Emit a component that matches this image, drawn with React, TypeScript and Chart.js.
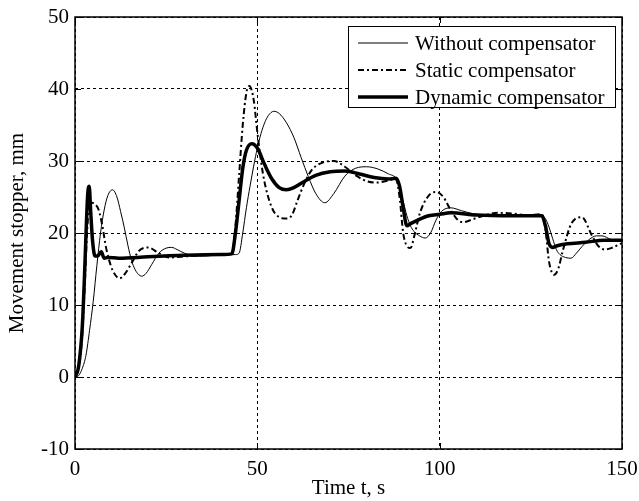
import React, { useEffect, useRef } from "react";
import { Chart, registerables } from "chart.js";

Chart.register(...registerables);

// ---- Data ----
const seriesLabels = ["Without compensator", "Static compensator", "Dynamic compensator"];

const tWithout = [0, 1, 2, 3, 4, 5, 6, 7, 8, 9, 10.3, 11.5, 12.5, 13.5, 14.5, 15.5, 16.5, 17.5, 18.3, 19.5, 21, 23, 25, 26.5, 28, 30, 33, 36, 40, 44, 45, 46, 47, 48, 49, 50, 51, 52, 53, 54.5, 56, 58, 60, 62, 64, 66, 68.5, 71, 74, 77, 80, 83, 86, 88, 89, 90, 91, 92, 93, 94.5, 96, 97.5, 99, 100.5, 103, 106, 109, 113, 120, 128, 129, 130, 131, 132, 133, 134.5, 136, 137.5, 139, 141, 143, 144.5, 147, 150];
const vWithout = [0, 0.2, 1.2, 3, 6.5, 10.5, 15.5, 20, 23.2, 25.2, 26, 25, 23, 20.8, 18.3, 16.2, 14.9, 14.2, 14, 14.4, 15.6, 17.2, 17.9, 18, 17.7, 17.2, 16.8, 16.8, 17, 17, 17.2, 20, 23.5, 26.5, 29.3, 31.8, 33.8, 35.3, 36.3, 36.9, 36.6, 35.3, 33.3, 30.5, 27.8, 25.5, 24.2, 25.5, 27.9, 29, 29.2, 28.9, 28.2, 27.6, 26.4, 24.4, 22.4, 21, 20.2, 19.6, 19.3, 20, 21.8, 23, 23.5, 23.1, 22.7, 22.5, 22.5, 22.4, 22, 20.8, 19.2, 17.7, 17, 16.6, 16.5, 17.2, 18.1, 19.1, 19.6, 19.6, 19.1, 18.8];

const tStatic = [0, 1, 2, 2.7, 3.3, 3.8, 4.5, 5.5, 6.5, 7.5, 8.5, 9.8, 11, 12.3, 13.5, 15.5, 17.5, 20, 23, 26, 29, 34, 40, 43, 44, 45, 46, 47, 47.8, 49, 50, 51, 52, 54, 56, 58, 59.5, 61, 63, 65, 68, 71, 74, 77, 80, 83, 86, 88, 89, 90, 91, 92, 93, 94.6, 97, 99, 101, 103, 105, 106.5, 109, 112, 116, 120, 124, 128, 129, 130, 131.4, 132.5, 133.8, 136.2, 139, 141.7, 143.5, 145.3, 147, 150];
const vStatic = [0, 1.2, 6, 13, 20, 23.5, 24.2, 24, 23.2, 21, 18, 15.5, 14.2, 13.7, 14.2, 15.8, 17.5, 18, 17.2, 16.6, 16.7, 16.9, 17, 17, 21, 28, 35, 39.5, 40.4, 38.5, 34, 30, 27, 23.5, 22.2, 22, 22.5, 24.5, 27, 28.8, 29.8, 30, 29.2, 28, 27.2, 27, 27.3, 27.5, 25, 20, 18.2, 17.9, 19.5, 22.8, 25.2, 25.7, 25, 23.2, 21.8, 21.5, 21.9, 22.4, 22.8, 22.7, 22.5, 22.6, 20.5, 16, 14.2, 15, 17.6, 21.4, 22.2, 19.7, 18.2, 17.7, 17.9, 18.6];

const tDynamic = [0, 1, 2, 2.6, 3.1, 3.5, 3.9, 4.3, 4.8, 5.5, 6.2, 7.2, 8, 9, 12, 20, 30, 40, 43, 44, 45, 46, 47, 48.5, 50, 52, 54, 56, 58, 60, 63, 66, 70, 74, 78, 82, 86, 88, 89, 90, 91, 92, 94, 97, 100, 103, 110, 120, 128, 129, 130, 131, 132, 135, 140, 145, 150];
const vDynamic = [0, 1.5, 7, 14, 21, 25.5, 26.5, 23, 19, 16.8, 16.8, 17.4, 16.5, 16.6, 16.5, 16.7, 16.9, 17, 17.1, 20, 24.5, 29, 31.5, 32.4, 31.8, 29.5, 27.5, 26.3, 26, 26.3, 27.2, 28, 28.5, 28.6, 28.2, 27.7, 27.5, 27.6, 26.5, 23.5, 21, 21.3, 21.8, 22.4, 22.6, 22.8, 22.5, 22.4, 22.4, 21, 18.5, 18, 18.2, 18.5, 18.7, 19, 19];

const xTicks = [0, 50, 100, 150];
const yTicks = [-10, 0, 10, 20, 30, 40, 50];

const FONT = "'Liberation Serif', 'Times New Roman', serif";
const FS = 21;

const styles = [
  { width: 1, dash: [] as number[] },
  { width: 2, dash: [6, 3, 2, 3] },
  { width: 3.5, dash: [] as number[] },
];

const toPts = (t: number[], v: number[]) => t.map((x, i) => ({ x, y: v[i] }));

const framePlugin = {
  id: "frame",
  afterDraw(chart: any) {
    const { ctx, chartArea: a, scales } = chart;
    ctx.save();
    ctx.strokeStyle = "#000";
    ctx.setLineDash([]);
    ctx.lineWidth = 1;
    const tl = 6;
    ctx.beginPath();
    xTicks.forEach((t) => {
      const x = Math.round(scales.x.getPixelForValue(t)) + 0.5;
      ctx.moveTo(x, a.bottom);
      ctx.lineTo(x, a.bottom - tl);
      ctx.moveTo(x, a.top);
      ctx.lineTo(x, a.top + tl);
    });
    yTicks.forEach((v) => {
      const y = Math.round(scales.y.getPixelForValue(v)) + 0.5;
      ctx.moveTo(a.left, y);
      ctx.lineTo(a.left + tl, y);
      ctx.moveTo(a.right, y);
      ctx.lineTo(a.right - tl, y);
    });
    ctx.stroke();
    ctx.lineWidth = 1.5;
    ctx.strokeRect(a.left, a.top, a.right - a.left, a.bottom - a.top);

    // legend
    const lx = 348.5, ly = 26.5, lw = 267, lh = 81;
    ctx.fillStyle = "#fff";
    ctx.fillRect(lx, ly, lw, lh);
    ctx.lineWidth = 1;
    ctx.strokeRect(lx, ly, lw, lh);
    ctx.font = `${FS}px ${FONT}`;
    ctx.textBaseline = "middle";
    ctx.textAlign = "left";
    chart.data.datasets.forEach((ds: any, i: number) => {
      const y = 43 + i * 27;
      ctx.beginPath();
      ctx.lineWidth = ds.borderWidth;
      ctx.setLineDash(ds.borderDash || []);
      ctx.moveTo(358, y);
      ctx.lineTo(408, y);
      ctx.stroke();
      ctx.setLineDash([]);
      ctx.fillStyle = "#000";
      ctx.fillText(ds.label, 415, y + 1);
    });
    ctx.restore();
  },
};

export default function App() {
  const ref = useRef<HTMLCanvasElement>(null);
  useEffect(() => {
    document.body.style.margin = "0";
    const ctx = ref.current!.getContext("2d")!;
    const series = [toPts(tWithout, vWithout), toPts(tStatic, vStatic), toPts(tDynamic, vDynamic)];
    const chart = new Chart(ctx, {
      type: "line",
      data: {
        datasets: series.map((d, i) => ({
          label: seriesLabels[i],
          data: d,
          borderColor: "#000",
          backgroundColor: "#000",
          borderWidth: styles[i].width,
          borderDash: styles[i].dash,
          pointRadius: 0,
          fill: false,
          cubicInterpolationMode: "monotone" as const,
          order: 2 - i,
        })),
      },
      options: {
        responsive: false,
        animation: false,
        events: [],
        layout: { padding: { top: 17, right: 17, left: 0, bottom: 0 } },
        plugins: { legend: { display: false }, tooltip: { enabled: false } },
        scales: {
          x: {
            type: "linear",
            min: 0,
            max: 150,
            afterFit: (s: any) => { s.height = 52; s.paddingLeft = 0; s.paddingRight = 0; },
            afterBuildTicks: (s: any) => { s.ticks = xTicks.map((v) => ({ value: v })); },
            ticks: { autoSkip: false, maxRotation: 0, padding: 8, color: "#000", font: { family: FONT, size: FS } },
            grid: { color: "#000", lineWidth: 1, drawTicks: false },
            border: { display: false, dash: [3, 3] },
            title: { display: true, text: "Time t, s", color: "#000", font: { family: FONT, size: FS }, padding: { top: 0, bottom: 0 } },
          },
          y: {
            type: "linear",
            min: -10,
            max: 50,
            afterFit: (s: any) => { s.width = 75; s.paddingTop = 0; s.paddingBottom = 0; },
            afterBuildTicks: (s: any) => { s.ticks = yTicks.map((v) => ({ value: v })); },
            ticks: { autoSkip: false, padding: 6, color: "#000", font: { family: FONT, size: FS } },
            grid: { color: "#000", lineWidth: 1, drawTicks: false },
            border: { display: false, dash: [3, 3] },
            title: { display: true, text: "Movement stopper, mm", color: "#000", font: { family: FONT, size: FS }, padding: { top: 5, bottom: 0 } },
          },
        },
      },
      plugins: [framePlugin],
    });
    return () => chart.destroy();
  }, []);
  return (
    <div style={{ position: "absolute", left: 0, top: 0, width: 639, height: 501, background: "#fff" }}>
      <canvas ref={ref} width={639} height={501} style={{ display: "block" }} />
    </div>
  );
}
